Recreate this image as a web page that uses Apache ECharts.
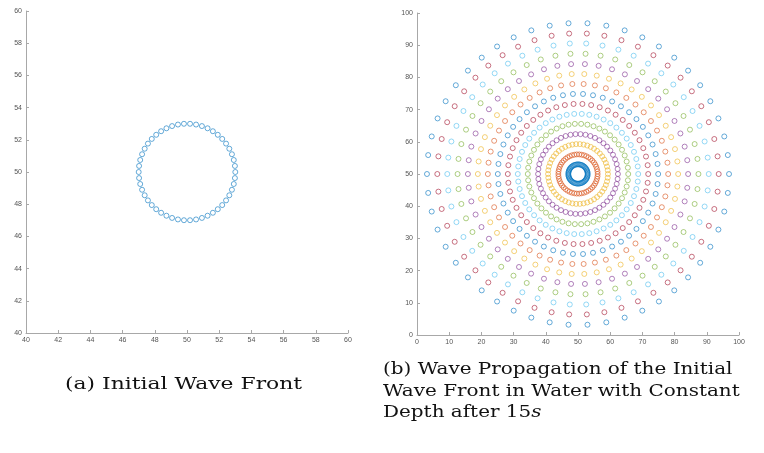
<!DOCTYPE html>
<html>
<head>
<meta charset="utf-8">
<script src="https://cdn.jsdelivr.net/npm/echarts@6/dist/echarts.min.js"></script>
<style>
  html, body { margin: 0; padding: 0; background: #ffffff; }
  #chart { width: 764px; height: 453px; }
</style>
</head>
<body>
<div id="chart"></div>
<script>
// Directions (degrees) of the 50 rays carrying the wave-front points
const rayAngles = [
  0, 7.2, 14.4, 21.6, 28.8, 36, 43.2, 50.4, 57.6, 64.8,
  72, 79.2, 86.4, 93.6, 100.8, 108, 115.2, 122.4, 129.6, 136.8,
  144, 151.2, 158.4, 165.6, 172.8, 180, 187.2, 194.4, 201.6, 208.8,
  216, 223.2, 230.4, 237.6, 244.8, 252, 259.2, 266.4, 273.6, 280.8,
  288, 295.2, 302.4, 309.6, 316.8, 324, 331.2, 338.4, 345.6, 352.8
];

// Radius of the initial front, centred at (50, 50)
const initialRadius = 3.0;

// Front radius at each second, t = 0 .. 14
const frontRadii = [3.0, 6.1, 9.3, 12.4, 15.6, 18.7, 21.8, 24.9, 28.0, 31.1, 34.2, 37.4, 40.6, 43.7, 46.9];

// Default line colour order
const palette = ['#0072BD', '#D95319', '#EDB120', '#7E2F8E', '#77AC30', '#4DBEEE', '#A2142F'];

// Axis ranges and tick steps
const axisA = { min: 40, max: 60, step: 2 };
const axisB = { min: 0, max: 100, step: 10 };

// Sub-figure captions
const captionA = '(a) Initial Wave Front';
const captionB = '(b) Wave Propagation of the Initial\nWave Front in Water with Constant\nDepth after 15{i|s}';

// Plot boxes (pixels)
const boxA = { left: 26, top: 11, size: 322 };
const boxB = { left: 417, top: 13, size: 322 };

const tickFont = { fontFamily: 'Liberation Sans', fontSize: 7, color: '#555555' };

function cartAxis(range, gridIndex) {
  return {
    type: 'value',
    gridIndex: gridIndex,
    min: range.min,
    max: range.max,
    interval: range.step,
    axisLine: { show: true, lineStyle: { color: '#a8a8a8', width: 1 } },
    axisTick: { show: true, inside: true, length: 3, lineStyle: { color: '#a8a8a8' } },
    splitLine: { show: false },
    axisLabel: Object.assign({ margin: 4, showMinLabel: true, showMaxLabel: true }, tickFont)
  };
}

function ringPoints(r) {
  return rayAngles.map(a => [r, a]);
}

function ringSeries(polarIndex, r, color) {
  return {
    type: 'scatter',
    coordinateSystem: 'polar',
    polarIndex: polarIndex,
    symbol: 'circle',
    symbolSize: 5,
    itemStyle: { color: 'rgba(0,0,0,0)', borderColor: color, borderWidth: 0.8, opacity: 0.75 },
    data: ringPoints(r),
    silent: true
  };
}

const series = [ringSeries(0, initialRadius, palette[0])];
frontRadii.forEach((r, i) => series.push(ringSeries(1, r, palette[i % palette.length])));

const halfA = (axisA.max - axisA.min) / 2;
const halfB = (axisB.max - axisB.min) / 2;

const serif = 'DejaVu Serif';

const option = {
  backgroundColor: '#ffffff',
  animation: false,
  graphic: [
    {
      type: 'text',
      x: 65, y: 375,
      scaleX: 1.25,
      silent: true,
      style: {
        text: captionA,
        font: 'normal 17.5px "' + serif + '"',
        fill: '#111111',
        verticalAlign: 'top'
      }
    },
    {
      type: 'text',
      x: 383, y: 359,
      scaleX: 1.21,
      silent: true,
      style: {
        text: captionB,
        font: 'normal 16.5px "' + serif + '"',
        fill: '#111111',
        lineHeight: 21.5,
        verticalAlign: 'top',
        rich: {
          i: { font: 'italic 16.5px "' + serif + '"', fill: '#111111', lineHeight: 21.5 }
        }
      }
    }
  ],
  grid: [
    { left: boxA.left, top: boxA.top, width: boxA.size, height: boxA.size },
    { left: boxB.left, top: boxB.top, width: boxB.size, height: boxB.size }
  ],
  xAxis: [cartAxis(axisA, 0), cartAxis(axisB, 1)],
  yAxis: [cartAxis(axisA, 0), cartAxis(axisB, 1)],
  polar: [
    { center: [boxA.left + boxA.size / 2, boxA.top + boxA.size / 2], radius: boxA.size / 2 },
    { center: [boxB.left + boxB.size / 2, boxB.top + boxB.size / 2], radius: boxB.size / 2 }
  ],
  angleAxis: [
    { polarIndex: 0, type: 'value', min: 0, max: 360, startAngle: 0, clockwise: false, show: false },
    { polarIndex: 1, type: 'value', min: 0, max: 360, startAngle: 0, clockwise: false, show: false }
  ],
  radiusAxis: [
    { polarIndex: 0, type: 'value', min: 0, max: halfA, show: false },
    { polarIndex: 1, type: 'value', min: 0, max: halfB, show: false }
  ],
  series: series
};

const chart = echarts.init(document.getElementById('chart'), null, { renderer: 'canvas' });
chart.setOption(option);
</script>
</body>
</html>
